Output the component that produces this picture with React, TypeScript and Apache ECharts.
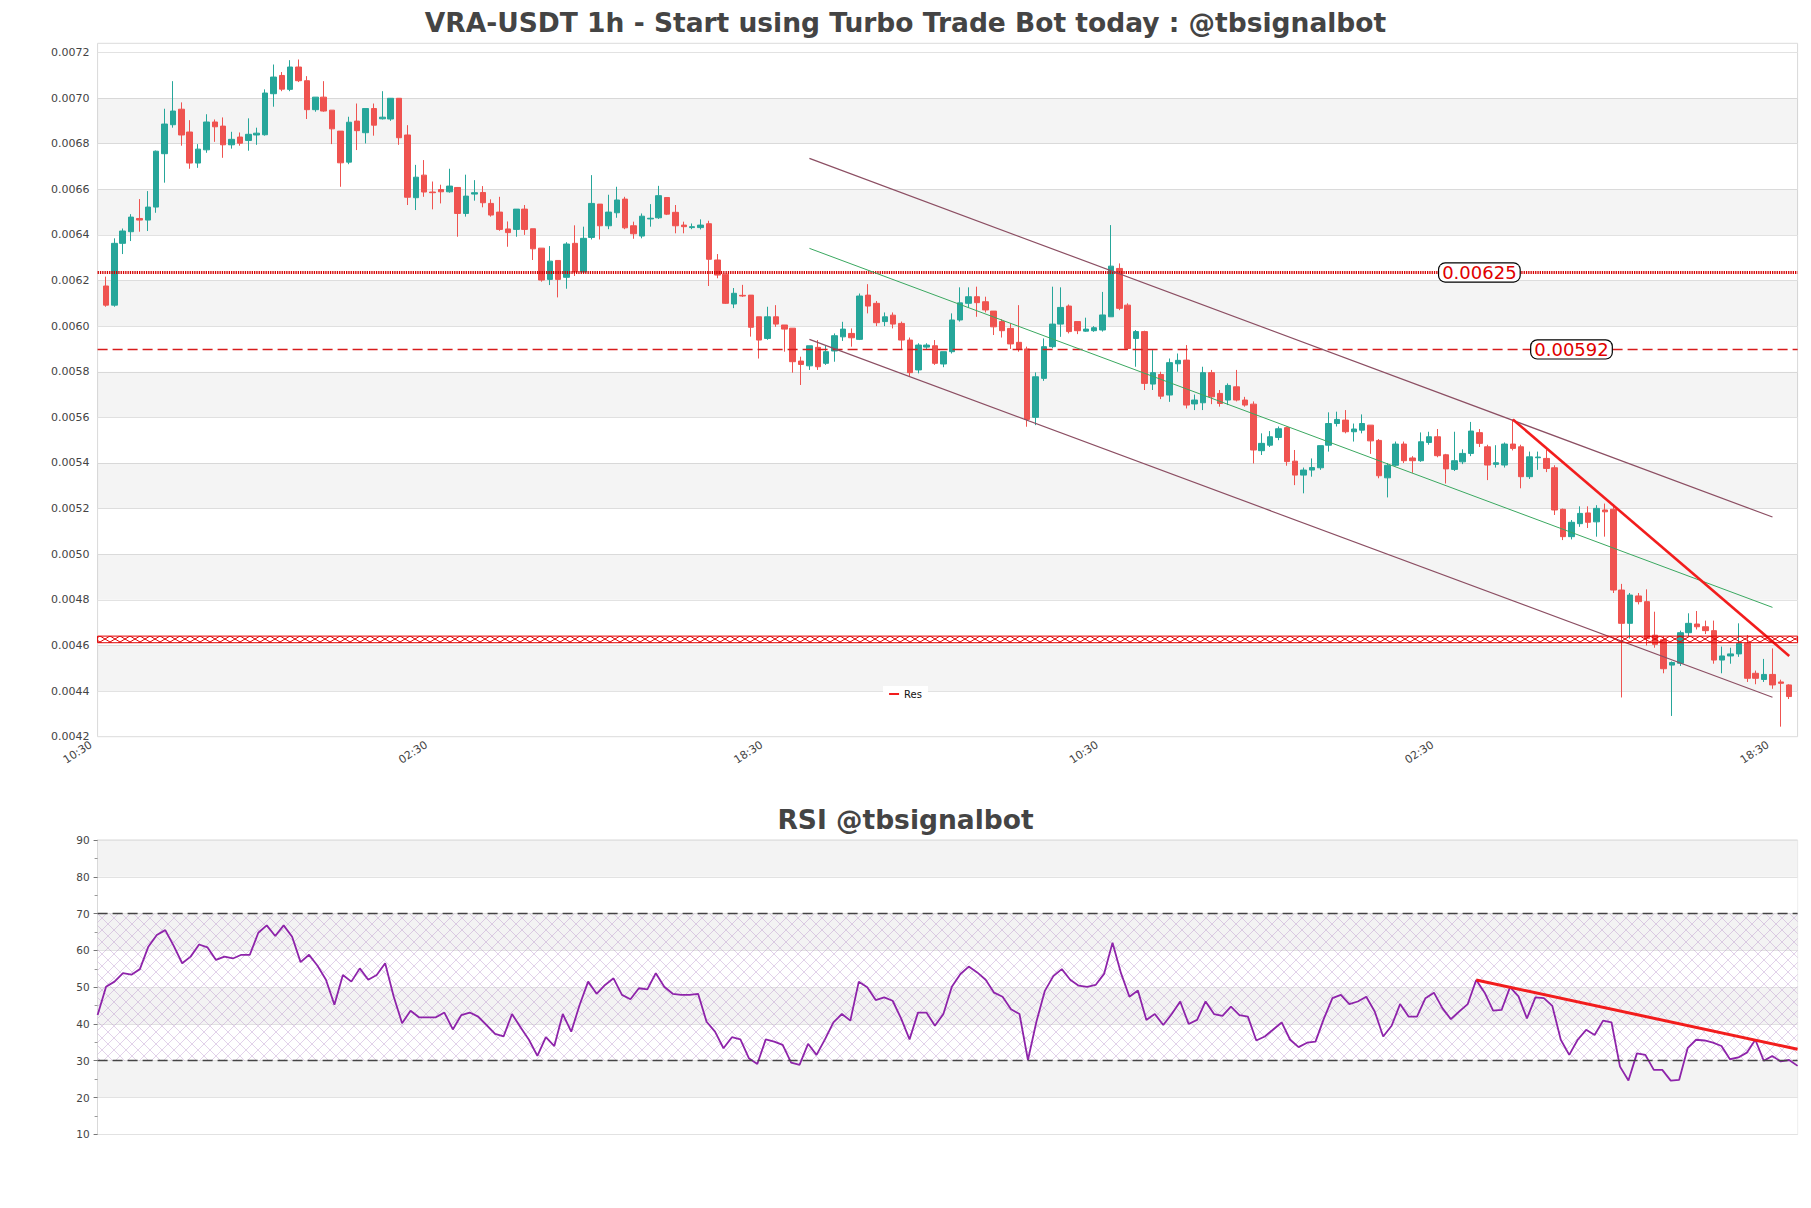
import React, { useEffect, useRef } from 'react';
import * as echarts from 'echarts';

const TITLE = 'VRA-USDT 1h - Start using Turbo Trade Bot today : @tbsignalbot';
const RSI_TITLE = 'RSI @tbsignalbot';

const opens = [
  0.006176, 0.006092, 0.006363, 0.006414, 0.006472, 0.006465, 0.006522, 0.006756, 0.006883, 0.006951,
  0.006851, 0.006715, 0.006773, 0.006895, 0.006877, 0.006795, 0.006829, 0.006814, 0.006838, 0.006839,
  0.007019, 0.007099, 0.007038, 0.007136, 0.007076, 0.006949, 0.007004, 0.006947, 0.006855, 0.006719,
  0.006899, 0.006848, 0.006954, 0.006909, 0.006908, 0.006999, 0.006838, 0.006563, 0.006662, 0.006588,
  0.006599, 0.006589, 0.006608, 0.006494, 0.006579, 0.006586, 0.006538, 0.0065, 0.006426, 0.006424,
  0.006513, 0.006427, 0.006342, 0.006205, 0.006288, 0.006214, 0.006363, 0.006237, 0.006389, 0.006535,
  0.00644, 0.006497, 0.006557, 0.00644, 0.006395, 0.00647, 0.006475, 0.006564, 0.006499, 0.006443,
  0.006432, 0.006432, 0.006449, 0.00629, 0.006228, 0.006097, 0.006135, 0.006136, 0.006041, 0.005946,
  0.006041, 0.006005, 0.005991, 0.005847, 0.005826, 0.005907, 0.005837, 0.005891, 0.005953, 0.005968,
  0.005942, 0.006136, 0.0061, 0.00602, 0.006048, 0.006012, 0.005939, 0.005808, 0.005908, 0.005914,
  0.005834, 0.005888, 0.006027, 0.0061, 0.006129, 0.006107, 0.006066, 0.00602, 0.00599, 0.005929,
  0.0059, 0.0056, 0.005771, 0.00591, 0.006009, 0.006088, 0.00602, 0.005978, 0.00598, 0.005983,
  0.006041, 0.006253, 0.006092, 0.005946, 0.005976, 0.005746, 0.005788, 0.005698, 0.005835, 0.005851,
  0.005659, 0.005664, 0.005796, 0.005705, 0.005676, 0.005734, 0.005676, 0.005658, 0.005454, 0.005478,
  0.005512, 0.005555, 0.005408, 0.005347, 0.005369, 0.005379, 0.005478, 0.005573, 0.005588, 0.005537,
  0.005544, 0.005566, 0.005499, 0.005335, 0.00539, 0.005483, 0.005422, 0.00541, 0.00549, 0.005515,
  0.005436, 0.005372, 0.005405, 0.005442, 0.005533, 0.005471, 0.005394, 0.005391, 0.005483, 0.005471,
  0.00534, 0.005423, 0.00542, 0.005379, 0.005197, 0.005077, 0.005134, 0.005181, 0.005142, 0.005194,
  0.005197, 0.004843, 0.004697, 0.004817, 0.004792, 0.004645, 0.004625, 0.004514, 0.004522, 0.004656,
  0.004694, 0.004682, 0.004665, 0.004536, 0.004554, 0.004563, 0.004609, 0.004478, 0.004451, 0.004473,
  0.00444, 0.004427,
];

const highs = [
  0.006217, 0.006385, 0.006428, 0.006491, 0.006557, 0.006592, 0.00677, 0.006953, 0.007074, 0.006981,
  0.006903, 0.006798, 0.006929, 0.006906, 0.006915, 0.006852, 0.006849, 0.006911, 0.00687, 0.007038,
  0.007147, 0.007114, 0.007166, 0.007169, 0.007096, 0.007004, 0.007074, 0.006947, 0.006855, 0.006918,
  0.006976, 0.006954, 0.006976, 0.00703, 0.007, 0.007, 0.006881, 0.006707, 0.006728, 0.006634,
  0.00662, 0.00669, 0.00661, 0.006664, 0.00664, 0.006614, 0.006556, 0.006567, 0.006459, 0.006513,
  0.006531, 0.006427, 0.006342, 0.006351, 0.006288, 0.006368, 0.006442, 0.006436, 0.006662, 0.006535,
  0.006576, 0.006611, 0.006567, 0.006458, 0.006494, 0.006535, 0.006615, 0.006564, 0.006531, 0.006458,
  0.00645, 0.006468, 0.006462, 0.006316, 0.006228, 0.006167, 0.006181, 0.006136, 0.006041, 0.006085,
  0.006092, 0.006005, 0.005991, 0.005866, 0.005914, 0.005939, 0.005913, 0.005968, 0.006019, 0.00599,
  0.006143, 0.006184, 0.00611, 0.00606, 0.00606, 0.00602, 0.00595, 0.005925, 0.005925, 0.005939,
  0.005888, 0.006056, 0.00617, 0.00617, 0.006173, 0.006129, 0.006066, 0.00603, 0.006012, 0.006092,
  0.00591, 0.005797, 0.005946, 0.006173, 0.00617, 0.006095, 0.00602, 0.006037, 0.006, 0.00615,
  0.006443, 0.006275, 0.0061, 0.005983, 0.00598, 0.005895, 0.0058, 0.005858, 0.00588, 0.005917,
  0.0057, 0.005822, 0.005808, 0.00572, 0.005749, 0.005808, 0.00569, 0.00567, 0.00553, 0.00554,
  0.00556, 0.00556, 0.005457, 0.00538, 0.00542, 0.005476, 0.005622, 0.005625, 0.005632, 0.005573,
  0.005613, 0.005566, 0.005505, 0.0054, 0.005494, 0.005494, 0.00543, 0.005534, 0.005537, 0.005549,
  0.00544, 0.005537, 0.00546, 0.00558, 0.005549, 0.00548, 0.005478, 0.00549, 0.005591, 0.00548,
  0.00545, 0.00545, 0.005457, 0.00539, 0.0052, 0.00515, 0.00521, 0.00521, 0.005215, 0.005222,
  0.00522, 0.00487, 0.00483, 0.00483, 0.004846, 0.004748, 0.00464, 0.00453, 0.004665, 0.004741,
  0.004751, 0.004709, 0.004709, 0.004595, 0.00459, 0.004697, 0.004646, 0.00449, 0.004541, 0.004587,
  0.00445, 0.00443,
];

const lows = [
  0.006085, 0.006085, 0.006316, 0.006373, 0.006414, 0.006417, 0.006497, 0.006629, 0.00687, 0.006791,
  0.00669, 0.006694, 0.00676, 0.006808, 0.006738, 0.006778, 0.006791, 0.006769, 0.006795, 0.006835,
  0.006962, 0.00703, 0.00703, 0.00707, 0.006908, 0.00694, 0.00694, 0.006798, 0.006611, 0.00671,
  0.006772, 0.006801, 0.006835, 0.006906, 0.0069, 0.006795, 0.006531, 0.006509, 0.006567, 0.006512,
  0.006538, 0.006585, 0.006392, 0.00648, 0.00655, 0.006521, 0.00648, 0.006418, 0.006348, 0.006392,
  0.0064, 0.00629, 0.006195, 0.00618, 0.006126, 0.006164, 0.00622, 0.00623, 0.00638, 0.00638,
  0.006425, 0.006475, 0.006425, 0.006383, 0.006385, 0.006436, 0.00647, 0.006487, 0.006407, 0.006407,
  0.006425, 0.006424, 0.006176, 0.00621, 0.006097, 0.006079, 0.006128, 0.005954, 0.005858, 0.00594,
  0.005997, 0.005888, 0.005796, 0.005742, 0.005808, 0.005808, 0.00583, 0.005844, 0.005935, 0.00591,
  0.005939, 0.006056, 0.006, 0.006, 0.00599, 0.0059, 0.00578, 0.005793, 0.0059, 0.00583,
  0.00582, 0.00588, 0.00602, 0.00608, 0.006041, 0.00606, 0.005961, 0.00595, 0.0059, 0.005888,
  0.005559, 0.005566, 0.00576, 0.005903, 0.005953, 0.005968, 0.005965, 0.005975, 0.005975, 0.005976,
  0.006041, 0.00607, 0.005895, 0.005822, 0.00572, 0.00572, 0.00568, 0.005668, 0.0058, 0.005639,
  0.005632, 0.005632, 0.005658, 0.005647, 0.005654, 0.00567, 0.005647, 0.005398, 0.005435, 0.00547,
  0.0055, 0.005388, 0.005303, 0.005267, 0.00534, 0.00537, 0.00545, 0.00556, 0.00553, 0.005494,
  0.00553, 0.00544, 0.005333, 0.005249, 0.005385, 0.0054, 0.005357, 0.005405, 0.00548, 0.005425,
  0.00531, 0.005365, 0.005395, 0.00543, 0.00547, 0.005325, 0.00538, 0.00538, 0.005455, 0.005289,
  0.00533, 0.00537, 0.00536, 0.005172, 0.005062, 0.005065, 0.00512, 0.005115, 0.005077, 0.005077,
  0.00483, 0.004372, 0.00463, 0.00478, 0.0046, 0.00459, 0.004478, 0.004291, 0.00451, 0.00464,
  0.00467, 0.00465, 0.00452, 0.004478, 0.00452, 0.00455, 0.00444, 0.00443, 0.00444, 0.00441,
  0.004244, 0.004365,
];

const closes = [
  0.006092, 0.006363, 0.006417, 0.006478, 0.006465, 0.006522, 0.006767, 0.006886, 0.006943, 0.006838,
  0.006715, 0.006776, 0.006895, 0.006874, 0.006795, 0.006819, 0.006802, 0.006841, 0.006846, 0.007022,
  0.007092, 0.007039, 0.007136, 0.007076, 0.006949, 0.007004, 0.006943, 0.006865, 0.006716, 0.006894,
  0.006857, 0.006954, 0.006881, 0.006916, 0.006999, 0.006826, 0.006565, 0.006653, 0.006588, 0.006585,
  0.006589, 0.006614, 0.006494, 0.00657, 0.006585, 0.006541, 0.006487, 0.006424, 0.00641, 0.006513,
  0.006424, 0.006339, 0.006202, 0.006285, 0.006205, 0.00636, 0.006237, 0.006385, 0.006538, 0.00644,
  0.0065, 0.006553, 0.006431, 0.006405, 0.006482, 0.006473, 0.006572, 0.006491, 0.00644, 0.006436,
  0.006436, 0.006443, 0.006293, 0.006224, 0.0061, 0.006144, 0.006132, 0.005995, 0.005939, 0.006041,
  0.006009, 0.005987, 0.005844, 0.005832, 0.005914, 0.005822, 0.005888, 0.005958, 0.005987, 0.005949,
  0.006132, 0.006088, 0.006015, 0.006041, 0.006009, 0.005939, 0.005796, 0.005917, 0.005917, 0.005837,
  0.005888, 0.006027, 0.006102, 0.006129, 0.006103, 0.006071, 0.005997, 0.00598, 0.005922, 0.005898,
  0.005591, 0.005778, 0.00591, 0.006009, 0.006082, 0.005976, 0.00598, 0.005987, 0.005993, 0.006049,
  0.006263, 0.006078, 0.005902, 0.005976, 0.005749, 0.005796, 0.005693, 0.00584, 0.00585, 0.005654,
  0.005676, 0.005796, 0.00569, 0.005661, 0.00574, 0.005676, 0.005654, 0.005457, 0.005486, 0.005515,
  0.00555, 0.005406, 0.005347, 0.005369, 0.00538, 0.005476, 0.005573, 0.005591, 0.005537, 0.005549,
  0.005573, 0.005497, 0.005344, 0.00539, 0.005483, 0.00541, 0.00541, 0.005493, 0.005515, 0.005432,
  0.005374, 0.00541, 0.005442, 0.00554, 0.005486, 0.005391, 0.005401, 0.005483, 0.005464, 0.00534,
  0.005427, 0.005426, 0.005376, 0.005194, 0.005077, 0.00514, 0.005179, 0.00514, 0.005201, 0.005186,
  0.004843, 0.004697, 0.004821, 0.004792, 0.00463, 0.004605, 0.004498, 0.004525, 0.004656, 0.004697,
  0.004682, 0.004665, 0.004536, 0.004554, 0.004563, 0.004609, 0.004456, 0.004456, 0.004473, 0.004427,
  0.004434, 0.004376,
];

const rsi = [
  42.4, 50.1, 51.5, 53.8, 53.4, 54.9, 61.0, 64.2, 65.5, 61.2,
  56.5, 58.3, 61.6, 60.8, 57.4, 58.3, 57.8, 58.8, 58.8, 64.8,
  66.8, 63.9, 66.8, 63.7, 56.8, 58.8, 55.8, 52.0, 45.2, 53.3,
  51.5, 55.1, 52.0, 53.3, 56.5, 47.5, 40.2, 43.6, 41.8, 41.8,
  41.8, 43.1, 38.5, 42.4, 43.1, 42.0, 39.7, 37.3, 36.6, 42.7,
  39.1, 35.7, 31.3, 36.4, 34.0, 42.7, 37.9, 45.2, 51.5, 48.2,
  50.6, 52.4, 47.9, 46.7, 49.7, 49.4, 53.8, 50.1, 48.2, 47.9,
  47.9, 48.2, 40.6, 37.9, 33.4, 36.4, 35.8, 30.7, 29.1, 35.8,
  35.2, 34.3, 29.5, 28.9, 34.6, 31.6, 35.8, 40.4, 42.7, 40.9,
  51.5, 50.0, 46.5, 47.2, 46.3, 41.5, 35.8, 43.1, 43.1, 39.5,
  42.7, 50.1, 53.5, 55.6, 54.0, 52.0, 48.5, 47.4, 44.0, 42.7,
  30.2, 40.6, 49.0, 53.0, 54.9, 52.0, 50.4, 50.1, 50.6, 53.6,
  62.1, 53.8, 47.4, 49.1, 41.1, 42.7, 39.7, 42.7, 46.1, 40.0,
  41.1, 46.1, 42.7, 42.2, 44.7, 42.4, 42.0, 35.5, 36.6, 38.5,
  40.4, 35.7, 33.7, 34.9, 35.2, 41.5, 47.0, 47.9, 45.4, 46.1,
  47.4, 43.4, 36.6, 39.5, 45.4, 42.0, 42.0, 47.0, 48.5, 44.3,
  41.3, 43.4, 45.4, 51.96, 48.5, 43.6, 43.8, 50.0, 47.5, 41.5,
  47.2, 47.0, 44.9, 35.7, 31.6, 35.7, 38.4, 37.0, 40.9, 40.4,
  28.4, 24.6, 32.0, 31.6, 27.5, 27.5, 24.6, 24.8, 33.4, 35.7,
  35.5, 34.9, 34.0, 30.4, 30.9, 32.2, 35.7, 30.0, 31.3, 29.8,
  30.2, 28.6,
];

// x tick labels, one every 40 candles
const xTickLabels = ['10:30', '02:30', '18:30', '10:30', '02:30', '18:30'];
const xTickStep = 40;
// price axis ticks
const priceTicks = [0.0042, 0.0044, 0.0046, 0.0048, 0.005, 0.0052, 0.0054, 0.0056, 0.0058, 0.006, 0.0062, 0.0064, 0.0066, 0.0068, 0.007, 0.0072];
const priceTop = 0.00724;
const rsiTicks = [10, 20, 30, 40, 50, 60, 70, 80, 90];

// horizontal levels
const levelDotted = 0.006235;
const levelDotted_label = '0.00625';
const levelDashed = 0.005898;
const levelDashed_label = '0.00592';
const supportBand = [0.004612, 0.004641];

// drawn lines: [candle index, price]
const channelUpper = [[84, 0.0067354], [199, 0.005163]];
const channelMid = [[84, 0.006341], [199, 0.004767]];
const channelLower = [[84, 0.005942], [199, 0.004373]];
const resLine = [[168, 0.005591], [201, 0.004554]];
const rsiTrend = [[163, 51.96], [201, 33.1]];
const rsiLevels = [70, 30];
const rsiZone = [30, 70];

const UP = '#26a69a';
const DOWN = '#ef5350';
const FONT = 'DejaVu Sans';

function hatch(w: number, h: number, color: string, lw: number, bg?: string) {
  const c = document.createElement('canvas');
  c.width = w;
  c.height = h;
  const ctx = c.getContext('2d')!;
  if (bg) {
    ctx.fillStyle = bg;
    ctx.fillRect(0, 0, w, h);
  }
  ctx.strokeStyle = color;
  ctx.lineWidth = lw;
  ctx.beginPath();
  ctx.moveTo(0, 0);
  ctx.lineTo(w, h);
  ctx.moveTo(0, h);
  ctx.lineTo(w, 0);
  ctx.stroke();
  return { image: c, repeat: 'repeat', imageWidth: w, imageHeight: h } as any;
}

function buildOption() {
  const n = opens.length;
  const lastSlot = n + 1;
  const slots = Array.from({ length: n + 2 }, (_, k) => String(k));
  const labelSlots = Array.from({ length: (xTickLabels.length - 1) * xTickStep + 1 }, (_, k) =>
    k % xTickStep === 0 ? xTickLabels[k / xTickStep] : ''
  );
  const rsiSlots = rsi.map((_, k) => String(k));
  const candles = opens.map((o, i) => [i + 1, o, closes[i], lows[i], highs[i]]);
  const toSlot = (pts: number[][]) => pts.map(([i, v]) => [i + 1, v]);

  const grayBands: any[] = [];
  for (let k = 1; k < priceTicks.length - 1; k += 2) {
    grayBands.push([{ yAxis: priceTicks[k] }, { yAxis: priceTicks[k + 1] }]);
  }

  const mainGrid = { left: 97.6, right: 13.4, top: 43.3, bottom: 471.3 };

  const lineSeries = (name: string, data: number[][], color: string, width: number, extra: any = {}) => ({
    type: 'line',
    name,
    xAxisIndex: 0,
    yAxisIndex: 0,
    data,
    symbol: 'none',
    silent: true,
    z: 4,
    lineStyle: { color, width },
    itemStyle: { color },
    ...extra,
  });

  const levelLine = (name: string, level: number, color: string, width: number, type: any) =>
    lineSeries(name, [[0, level], [lastSlot, level]], color, width, {
      z: 3,
      lineStyle: { color, width, type },
    });

  return {
    animation: false,
    backgroundColor: '#ffffff',
    textStyle: { fontFamily: FONT },
    title: [
      {
        text: TITLE,
        left: 'center',
        top: 9,
        padding: 0,
        textStyle: { fontSize: 26.5, fontWeight: 'bold', color: '#444444', fontFamily: FONT },
      },
      {
        text: RSI_TITLE,
        left: 'center',
        top: 806,
        padding: 0,
        textStyle: { fontSize: 26.5, fontWeight: 'bold', color: '#444444', fontFamily: FONT },
      },
    ],
    legend: {
      data: [{ name: 'Res', icon: 'rect' }],
      left: 'center',
      top: 686,
      itemWidth: 10,
      itemHeight: 2,
      padding: [3, 6],
      backgroundColor: '#ffffff',
      selectedMode: false,
      textStyle: { fontSize: 10, color: '#111', fontFamily: FONT },
    },
    grid: [
      { ...mainGrid, show: true, borderColor: '#d9d9d9', borderWidth: 1 },
      { left: 91, right: 43, top: 43.3, bottom: 471.3, show: false },
      { left: 97.6, right: 13.4, top: 840, bottom: 73.7, show: true, borderColor: '#d9d9d9', borderWidth: 1 },
    ],
    xAxis: [
      {
        type: 'category',
        gridIndex: 0,
        data: slots,
        boundaryGap: false,
        axisLine: { show: false },
        axisTick: { show: false },
        axisLabel: { show: false },
        splitLine: { show: false },
      },
      {
        type: 'category',
        gridIndex: 1,
        data: labelSlots,
        boundaryGap: false,
        axisLine: { show: false },
        axisTick: { show: false },
        splitLine: { show: false },
        axisLabel: { interval: xTickStep - 1, rotate: 33, fontSize: 11, color: '#444', margin: 7, fontFamily: FONT },
      },
      {
        type: 'category',
        gridIndex: 2,
        data: rsiSlots,
        boundaryGap: false,
        axisLine: { show: false },
        axisTick: { show: false },
        axisLabel: { show: false },
        splitLine: { show: false },
      },
    ],
    yAxis: [
      {
        type: 'value',
        gridIndex: 0,
        min: priceTicks[0],
        max: priceTop,
        interval: priceTicks[1] - priceTicks[0],
        axisLine: { show: false },
        axisTick: { show: false },
        axisLabel: {
          fontSize: 11,
          color: '#444',
          margin: 8,
          showMaxLabel: false,
          fontFamily: FONT,
          formatter: (v: number) => v.toFixed(4),
        },
        splitLine: { show: true, lineStyle: { color: '#e2e2e2', width: 1 } },
      },
      { type: 'value', gridIndex: 1, show: false },
      {
        type: 'value',
        gridIndex: 2,
        min: rsiTicks[0],
        max: rsiTicks[rsiTicks.length - 1],
        interval: rsiTicks[1] - rsiTicks[0],
        axisLine: { show: true, lineStyle: { color: '#d9d9d9' } },
        axisTick: { show: true, length: 4, lineStyle: { color: '#777' } },
        minorTick: { show: true, splitNumber: 2, length: 3, lineStyle: { color: '#999' } },
        axisLabel: { fontSize: 10.5, color: '#444', margin: 8, fontFamily: FONT },
        splitLine: { show: true, lineStyle: { color: '#e2e2e2', width: 1 } },
        splitArea: { show: true, areaStyle: { color: ['#ffffff', '#f3f3f3'] } },
      },
    ],
    series: [
      {
        type: 'candlestick',
        name: 'Price',
        xAxisIndex: 0,
        yAxisIndex: 0,
        data: candles,
        encode: { x: 0, y: [1, 2, 3, 4] },
        barWidth: 6,
        silent: true,
        itemStyle: { color: UP, color0: DOWN, borderColor: UP, borderColor0: DOWN, borderWidth: 1 },
        markArea: {
          silent: true,
          z: 1,
          itemStyle: { color: 'rgba(0,0,0,0.045)', opacity: 1 },
          data: grayBands,
        },
        markPoint: {
          silent: true,
          z: 10,
          symbol: 'circle',
          symbolSize: 0,
          label: {
            show: true,
            position: 'inside',
            formatter: '{b}',
            color: '#e00000',
            fontSize: 18,
            fontFamily: FONT,
            backgroundColor: '#ffffff',
            borderColor: '#000000',
            borderWidth: 1.2,
            borderRadius: 6,
            padding: [0, 3],
          },
          data: [
            { name: levelDotted_label, coord: [165, levelDotted] },
            { name: levelDashed_label, coord: [176, levelDashed] },
          ],
        },
      },
      levelLine('Level 1', levelDotted, '#d40000', 3, [1.3, 1]),
      levelLine('Level 2', levelDashed, '#d81c1c', 1.5, [10, 5]),
      lineSeries('Upper', toSlot(channelUpper), '#8c4f63', 1.2),
      lineSeries('Mid', toSlot(channelMid), '#3aa860', 1),
      lineSeries('Lower', toSlot(channelLower), '#8c4f63', 1.2),
      lineSeries('Res', toSlot(resLine), '#f21d1d', 2.6, {
        markArea: {
          silent: true,
          z: 6,
          itemStyle: {
            color: hatch(10, 6, '#e00000', 1),
            borderColor: '#e00000',
            borderWidth: 1,
            opacity: 1,
          },
          data: [[{ yAxis: supportBand[0] }, { yAxis: supportBand[1] }]],
        },
      }),
      {
        type: 'line',
        name: 'RSI',
        xAxisIndex: 2,
        yAxisIndex: 2,
        data: rsi,
        symbol: 'none',
        silent: true,
        lineStyle: { color: '#8e24aa', width: 1.8 },
        itemStyle: { color: '#8e24aa' },
        markArea: {
          silent: true,
          z: 1,
          itemStyle: { color: hatch(12, 12, 'rgba(175,130,195,0.45)', 0.8), opacity: 1 },
          data: [[{ yAxis: rsiZone[0] }, { yAxis: rsiZone[1] }]],
        },
        markLine: {
          silent: true,
          symbol: ['none', 'none'],
          label: { show: false },
          lineStyle: { color: '#444', width: 1.3, type: [10, 5] },
          data: rsiLevels.map((v) => ({ yAxis: v })),
        },
      },
      {
        type: 'line',
        name: 'RSI trend',
        xAxisIndex: 2,
        yAxisIndex: 2,
        data: rsiTrend,
        symbol: 'none',
        silent: true,
        z: 4,
        lineStyle: { color: '#f21d1d', width: 3 },
        itemStyle: { color: '#f21d1d' },
      },
    ],
  };
}

export default function App() {
  const ref = useRef<HTMLDivElement>(null);
  useEffect(() => {
    if (!ref.current) return;
    const chart = echarts.init(ref.current, null, { renderer: 'svg' });
    chart.setOption(buildOption() as any);
    return () => chart.dispose();
  }, []);
  return (
    <div
      ref={ref}
      style={{ position: 'fixed', left: 0, top: 0, width: 1811, height: 1208, background: '#ffffff' }}
    />
  );
}
